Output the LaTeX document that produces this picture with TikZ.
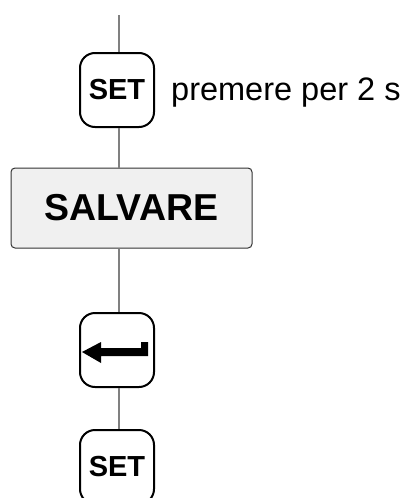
\documentclass[tikz,border=0pt]{standalone}
\usepackage{fontspec}
\setmainfont{Liberation Sans}
\begin{document}
\begin{tikzpicture}[x=1pt,y=-1pt,
  key/.style={draw=black,line width=2pt,rounded corners=15pt,fill=white,
    minimum width=74pt,minimum height=74pt,inner sep=0pt,
    font=\fontsize{29}{31}\selectfont\bfseries},
  action/.style={draw=black!80,line width=1pt,rounded corners=4pt,fill=black!6,
    minimum width=241pt,minimum height=80pt,inner sep=0pt,
    font=\fontsize{37.5}{40}\selectfont\bfseries},
  flow/.style={draw=black!50,line width=1.5pt},
  note/.style={anchor=base west,inner sep=0pt,font=\fontsize{32.5}{35}\selectfont}]
\useasboundingbox (0,0) rectangle (404,498);

\coordinate (start) at (119,15);
\node[key] (set1) at (117,90) {SET};
\node[action] (save) at (131.5,208) {SALVARE};
\node[key] (enter) at (117,350) {};
\node[key] (set2) at (117,467) {SET};
\node[note] (hold) at (171,100) {premere per 2 s};

% connectors along the main flow
\draw[flow] (start) -- ([xshift=2pt]set1.north);
\draw[flow] ([xshift=2pt]set1.south) -- ([xshift=2pt]set1.south |- save.north);
\draw[flow] ([xshift=2pt]set1.south |- save.south) -- ([xshift=2pt]enter.north);
\draw[flow] ([xshift=2pt]enter.south) -- ([xshift=2pt]set2.north);

% return-key symbol
\begin{scope}[shift={(enter.center)}]
  \fill (-35,2) -- (-16,-8) -- (-16,-2) -- (24,-2) -- (24,-8) -- (31,-8)
        -- (31,6) -- (-16,6) -- (-16,13) -- cycle;
\end{scope}
\end{tikzpicture}
\end{document}
